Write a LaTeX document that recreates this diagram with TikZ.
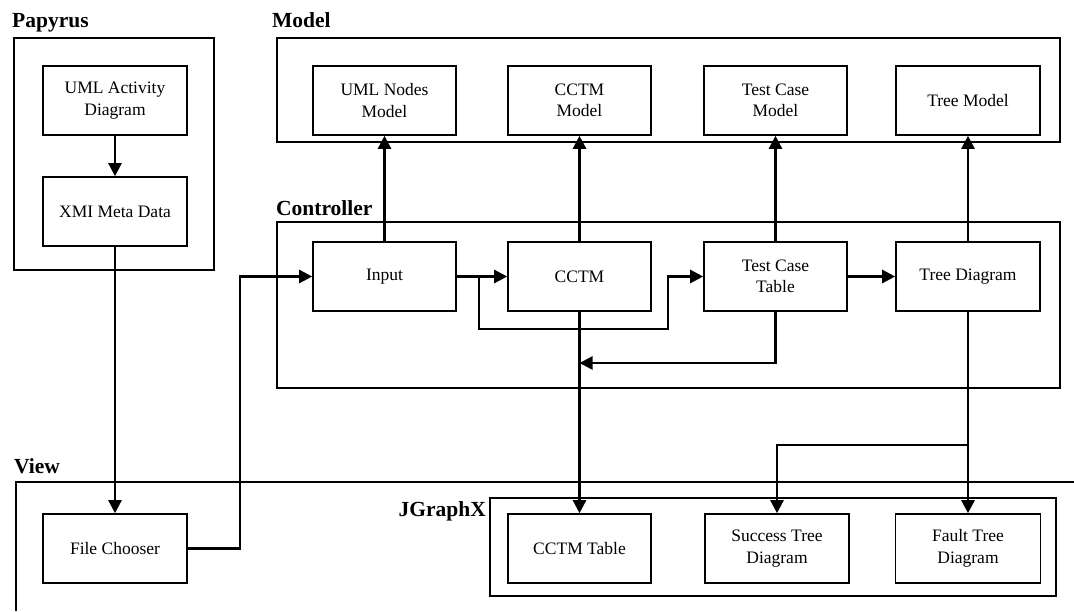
\documentclass[tikz,border=0pt]{standalone}
\usepackage{fontspec}
\setmainfont{Liberation Serif}
\usetikzlibrary{arrows.meta}
\begin{document}
\begin{tikzpicture}[x=1pt,y=-1pt,
  box/.style={draw,line width=1.6pt,rectangle,minimum width=144pt,minimum height=69pt,align=center,inner sep=1pt,font=\fontsize{17.5}{21.5}\selectfont},
  frame/.style={draw,line width=1.6pt},
  lbl/.style={font=\bfseries\fontsize{21.5}{23}\selectfont,inner sep=0pt},
  conn/.style={line width=2.4pt},
  arr/.style={conn,-{Triangle[length=13pt,width=13pt]}}]
\useasboundingbox (0,0) rectangle (1074,611);
% containers
\draw[frame] (14,38) rectangle (214,270);
\draw[frame] (277,38) rectangle (1060,142);
\draw[frame] (277,222) rectangle (1060,388);
\draw[frame] (16,611) -- (16,482) -- (1074,482);
\draw[frame] (490,498) rectangle (1056,596);
% labels
\node[lbl,anchor=base west] (lpap) at (12,27) {Papyrus};
\node[lbl,anchor=base west] (lmod) at (272,27) {Model};
\node[lbl,anchor=base west] (lctl) at (276,215) {Controller};
\node[lbl,anchor=base west] (lview) at (14,473) {View};
\node[lbl,anchor=base east] (ljg) at (486,516) {JGraphX};
% papyrus
\node[box] (uml) at (115,100.5) {UML Activity\\Diagram};
\node[box] (xmi) at (115,211.5) {XMI Meta Data};
% model
\node[box,minimum width=143pt] (umlm) at (384.5,100.5) {UML Nodes\\Model};
\node[box,minimum width=143pt] (cctmm) at (579.5,100.5) {CCTM\\Model};
\node[box,minimum width=143pt] (tcm) at (775.5,100.5) {Test Case\\Model};
\node[box,minimum width=144pt] (treem) at (968,100.5) {Tree Model};
% controller
\node[box,minimum width=143pt] (input) at (384.5,276.5) {Input};
\node[box,minimum width=143pt] (cctm) at (579.5,276.5) {CCTM};
\node[box,minimum width=143pt] (tct) at (775.5,276.5) {Test Case\\Table};
\node[box,minimum width=144pt] (tree) at (968,276.5) {Tree Diagram};
% view
\node[box] (fc) at (115,548.5) {File Chooser};
\node[box,minimum width=143pt] (ctab) at (579.5,548.5) {CCTM Table};
\node[box] (succ) at (777,548.5) {Success Tree\\Diagram};
\node[box,minimum width=145pt] (fault) at (968,548.5) {Fault Tree\\Diagram};
% coordinates
\coordinate (j1) at (479,276.5);
\coordinate (j2) at (479,329);
\coordinate (j3) at (668,329);
\coordinate (j4) at (668,276.5);
\coordinate (fb1) at (775.5,363);
\coordinate (fb2) at (579.5,363);
\coordinate (fcr) at (240,548.5);
\coordinate (fcu) at (240,276.5);
\coordinate (tb) at (968,445);
\coordinate (sb) at (777,445);
% connectors
\draw[arr] (uml) -- (xmi);
\draw[arr] (xmi) -- (fc);
\draw[arr] (fc.east) -- (fcr) -- (fcu) -- (input.west);
\draw[arr] (input.north) -- (umlm.south);
\draw[arr] (cctm.north) -- (cctmm.south);
\draw[arr] (tct.north) -- (tcm.south);
\draw[arr] (tree.north) -- (treem.south);
\draw[arr] (input.east) -- (cctm.west);
\draw[arr] (j1) -- (j2) -- (j3) -- (j4) -- (tct.west);
\draw[arr] (tct.south) -- (fb1) -- (fb2);
\draw[arr] (cctm.south) -- (ctab.north);
\draw[arr] (tct.east) -- (tree.west);
\draw[arr] (tree.south) -- (fault.north);
\draw[arr] (tb) -- (sb) -- (succ.north);
\end{tikzpicture}
\end{document}
